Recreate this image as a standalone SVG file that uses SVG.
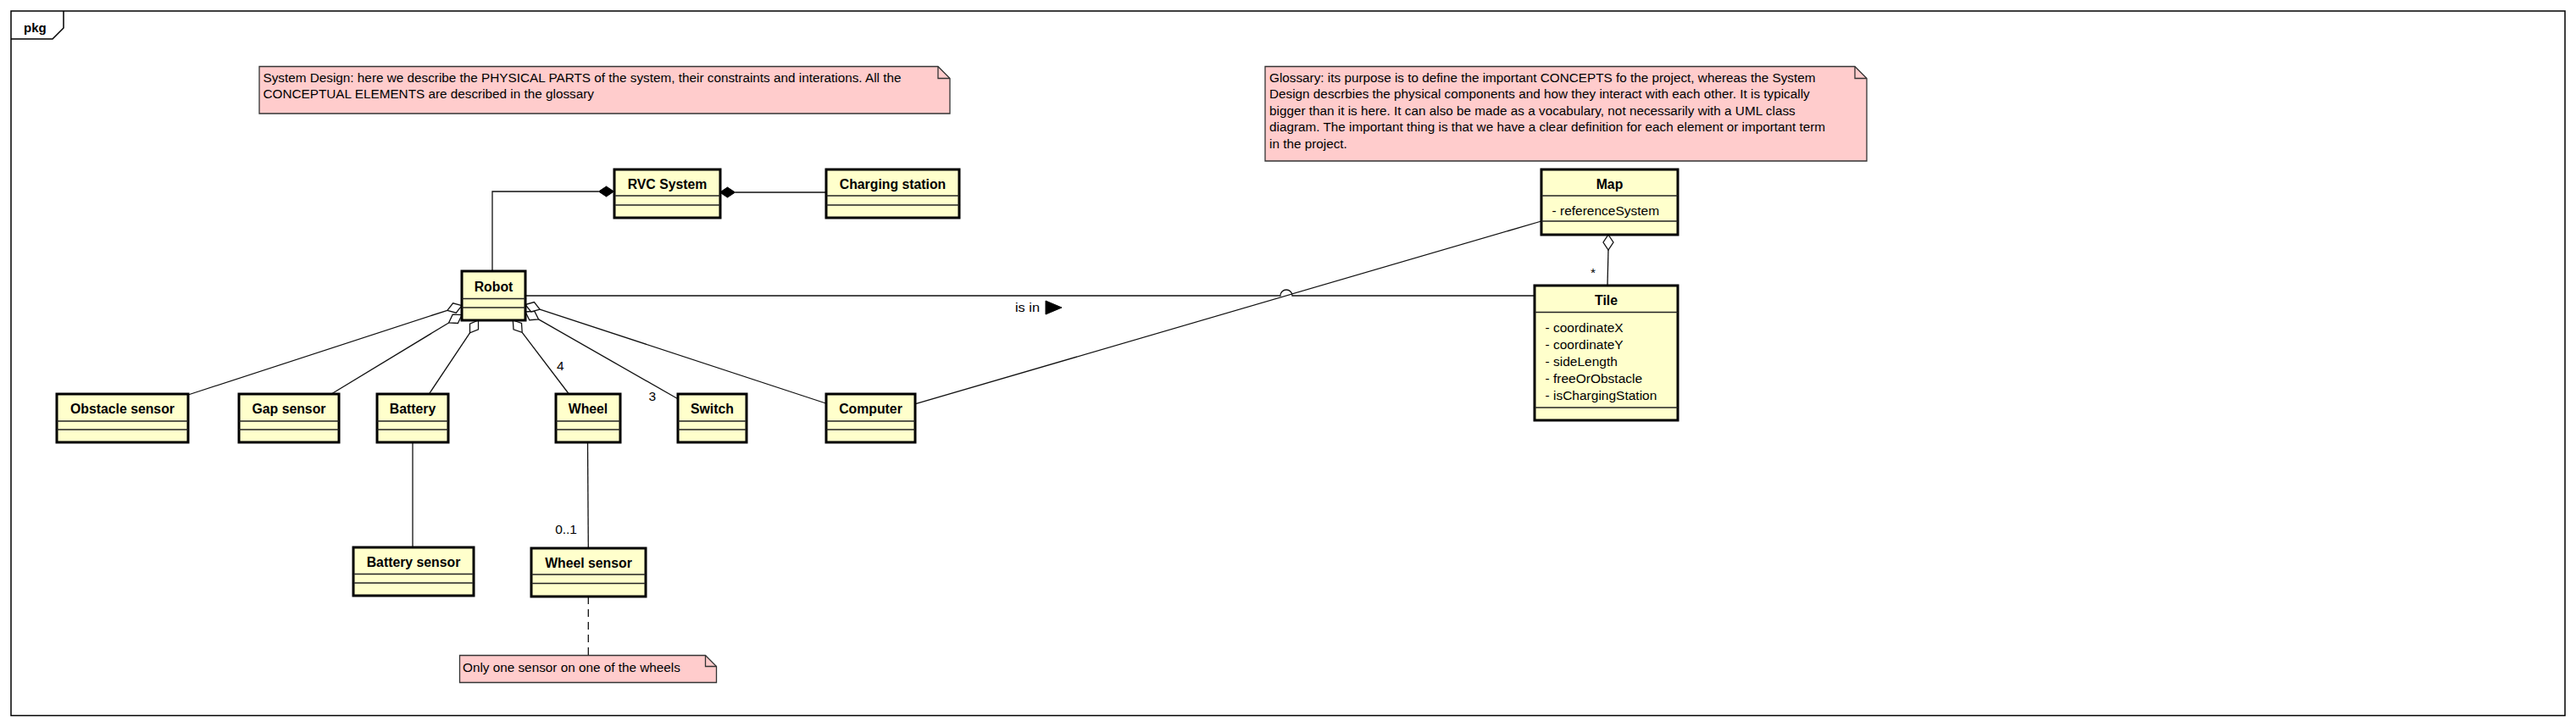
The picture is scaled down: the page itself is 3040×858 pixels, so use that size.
<svg xmlns="http://www.w3.org/2000/svg" width="3040" height="858" viewBox="0 0 3040 858">
<style>
.frame{fill:none;stroke:#000;stroke-width:1.5}
.cls{fill:#FFFFCC;stroke:#000;stroke-width:3}
.sep{stroke:#222;stroke-width:1.3}
.name{font-family:"Liberation Sans",Arial,sans-serif;font-size:15.8px;font-weight:bold;text-anchor:middle;fill:#000}
.attr{font-family:"Liberation Sans",Arial,sans-serif;font-size:15.5px;fill:#000}
.note{fill:#FFCCCC;stroke:#333;stroke-width:1.3}
.fold{fill:none;stroke:#333;stroke-width:1.3}
.ntxt{font-family:"Liberation Sans",Arial,sans-serif;font-size:15.3px;fill:#000}
.lbl{font-family:"Liberation Sans",Arial,sans-serif;font-size:15.5px;fill:#000}
.edge{fill:none;stroke:#111;stroke-width:1.3}
.dash{fill:none;stroke:#111;stroke-width:1.3;stroke-dasharray:9 6}
.hd{fill:#fff;stroke:#111;stroke-width:1.3}
.fd{fill:#000;stroke:#000;stroke-width:1}
</style>
<rect width="3040" height="858" fill="#fff"/>
<g id="frame">
<rect class="frame" x="13" y="13" width="3014" height="831.5"/>
<polyline class="frame" points="13,46 62,46 75,33 75,13"/>
<text x="28" y="37.5" style="font-family:'Liberation Sans',Arial,sans-serif;font-size:15px;font-weight:bold">pkg</text>
</g>
<g id="connectors">
<path class="edge" d="M581,320 V226 H706.5"/>
<polygon class="fd" points="724.5,226 715.5,220 706.5,226 715.5,232"/>
<path class="edge" d="M867.5,227 H975"/>
<polygon class="fd" points="849.5,227 858.5,221 867.5,227 858.5,233"/>
<path class="edge" d="M222,466 L527.9,366.3"/>
<polygon class="hd" points="545,360.7 538.3,369.2 527.9,366.3 534.6,357.8"/>
<path class="edge" d="M391,465 L529.6,381"/>
<polygon class="hd" points="545,371.7 540.4,381.5 529.6,381 534.2,371.2"/>
<path class="edge" d="M506.3,465 L554.5,392.9"/>
<polygon class="hd" points="564.5,378 564.5,388.8 554.5,392.9 554.5,382.1"/>
<path class="edge" d="M671.4,465 L616.2,392.3"/>
<polygon class="hd" points="605.3,378 615.5,381.5 616.2,392.3 606,388.8"/>
<path class="edge" d="M800,470.7 L635.6,376.9"/>
<polygon class="hd" points="620,368 630.8,367.3 635.6,376.9 624.8,377.7"/>
<path class="edge" d="M974.6,476 L637.1,365.1"/>
<polygon class="hd" points="620,359.5 630.4,356.6 637.1,365.1 626.7,368"/>
<path class="edge" d="M620,349 H1511 A7,7 0 0 1 1525,349 H1811"/>
<path class="edge" d="M1080.4,476.7 L1819,261"/>
<path class="edge" d="M1898,295 L1897,337"/>
<polygon class="hd" points="1898,277 1904,286 1898,295 1892,286"/>
<path class="edge" d="M487,522 V646"/>
<path class="edge" d="M693.5,522 L694.3,647"/>
<path class="dash" d="M694.3,704 V773.5"/>
<text class="lbl" x="657" y="437">4</text>
<text class="lbl" x="765.5" y="473">3</text>
<text class="lbl" x="681" y="630" text-anchor="end">0..1</text>
<text class="lbl" x="1877" y="327">*</text>
<text class="lbl" x="1198" y="368" textLength="29" lengthAdjust="spacingAndGlyphs">is in</text>
<polygon class="fd" points="1234,355 1253,363 1234,371"/>
</g>
<g id="note-system-design">
<path class="note" d="M306,78.5 H1107 L1121,92.5 V134 H306 Z"/>
<path class="fold" d="M1107,78.5 V92.5 H1121"/>
<text class="ntxt" x="310.5" y="96.5">System Design: here we describe the PHYSICAL PARTS of the system, their constraints and interations. All the</text>
<text class="ntxt" x="310.5" y="116">CONCEPTUAL ELEMENTS are described in the glossary</text>
</g>
<g id="note-glossary">
<path class="note" d="M1493,78.5 H2189 L2203,92.5 V190 H1493 Z"/>
<path class="fold" d="M2189,78.5 V92.5 H2203"/>
<text class="ntxt" x="1498" y="96.5">Glossary: its purpose is to define the important CONCEPTS fo the project, whereas the System</text>
<text class="ntxt" x="1498" y="116">Design descrbies the physical components and how they interact with each other. It is typically</text>
<text class="ntxt" x="1498" y="135.5">bigger than it is here. It can also be made as a vocabulary, not necessarily with a UML class</text>
<text class="ntxt" x="1498" y="155">diagram. The important thing is that we have a clear definition for each element or important term</text>
<text class="ntxt" x="1498" y="174.5">in the project.</text>
</g>
<g id="note-wheels">
<path class="note" d="M542.5,773.5 H832.5 L845.5,786.5 V805.5 H542.5 Z"/>
<path class="fold" d="M832.5,773.5 V786.5 H845.5"/>
<text class="ntxt" x="546" y="793">Only one sensor on one of the wheels</text>
</g>
<g id="rvc-system">
<rect class="cls" x="725" y="200" width="125" height="57"/>
<line class="sep" x1="725" y1="231" x2="850" y2="231"/><line class="sep" x1="725" y1="242" x2="850" y2="242"/>
<text class="name" x="787.5" y="223">RVC System</text>
</g>
<g id="charging-station">
<rect class="cls" x="975" y="200" width="157" height="57"/>
<line class="sep" x1="975" y1="231" x2="1132" y2="231"/><line class="sep" x1="975" y1="242" x2="1132" y2="242"/>
<text class="name" x="1053.5" y="223">Charging station</text>
</g>
<g id="robot">
<rect class="cls" x="545" y="320" width="75" height="58"/>
<line class="sep" x1="545" y1="352.5" x2="620" y2="352.5"/><line class="sep" x1="545" y1="363" x2="620" y2="363"/>
<text class="name" x="582.5" y="344">Robot</text>
</g>
<g id="obstacle-sensor">
<rect class="cls" x="67" y="465" width="155" height="57"/>
<line class="sep" x1="67" y1="497" x2="222" y2="497"/><line class="sep" x1="67" y1="507" x2="222" y2="507"/>
<text class="name" x="144.5" y="488">Obstacle sensor</text>
</g>
<g id="gap-sensor">
<rect class="cls" x="282" y="465" width="118" height="57"/>
<line class="sep" x1="282" y1="497" x2="400" y2="497"/><line class="sep" x1="282" y1="507" x2="400" y2="507"/>
<text class="name" x="341" y="488">Gap sensor</text>
</g>
<g id="battery">
<rect class="cls" x="445" y="465" width="84" height="57"/>
<line class="sep" x1="445" y1="497" x2="529" y2="497"/><line class="sep" x1="445" y1="507" x2="529" y2="507"/>
<text class="name" x="487" y="488">Battery</text>
</g>
<g id="wheel">
<rect class="cls" x="656" y="465" width="76" height="57"/>
<line class="sep" x1="656" y1="497" x2="732" y2="497"/><line class="sep" x1="656" y1="507" x2="732" y2="507"/>
<text class="name" x="694" y="488">Wheel</text>
</g>
<g id="switch">
<rect class="cls" x="800" y="465" width="81" height="57"/>
<line class="sep" x1="800" y1="497" x2="881" y2="497"/><line class="sep" x1="800" y1="507" x2="881" y2="507"/>
<text class="name" x="840.5" y="488">Switch</text>
</g>
<g id="computer">
<rect class="cls" x="975" y="465" width="105" height="57"/>
<line class="sep" x1="975" y1="497" x2="1080" y2="497"/><line class="sep" x1="975" y1="507" x2="1080" y2="507"/>
<text class="name" x="1027.5" y="488">Computer</text>
</g>
<g id="battery-sensor">
<rect class="cls" x="417" y="646" width="142" height="57"/>
<line class="sep" x1="417" y1="677.5" x2="559" y2="677.5"/><line class="sep" x1="417" y1="688" x2="559" y2="688"/>
<text class="name" x="488" y="669">Battery sensor</text>
</g>
<g id="wheel-sensor">
<rect class="cls" x="627" y="647" width="135" height="57"/>
<line class="sep" x1="627" y1="678" x2="762" y2="678"/><line class="sep" x1="627" y1="688.5" x2="762" y2="688.5"/>
<text class="name" x="694.5" y="670">Wheel sensor</text>
</g>
<g id="map">
<rect class="cls" x="1819" y="200" width="161" height="77"/>
<line class="sep" x1="1819" y1="231" x2="1980" y2="231"/><line class="sep" x1="1819" y1="261" x2="1980" y2="261"/>
<text class="name" x="1899.5" y="223">Map</text>
<text class="attr" x="1831.5" y="254">- referenceSystem</text>
</g>
<g id="tile">
<rect class="cls" x="1811" y="337" width="169" height="159"/>
<line class="sep" x1="1811" y1="368.5" x2="1980" y2="368.5"/><line class="sep" x1="1811" y1="481" x2="1980" y2="481"/>
<text class="name" x="1895.5" y="360">Tile</text>
<text class="attr" x="1823.5" y="392">- coordinateX</text>
<text class="attr" x="1823.5" y="412">- coordinateY</text>
<text class="attr" x="1823.5" y="432">- sideLength</text>
<text class="attr" x="1823.5" y="452">- freeOrObstacle</text>
<text class="attr" x="1823.5" y="472">- isChargingStation</text>
</g>
</svg>
